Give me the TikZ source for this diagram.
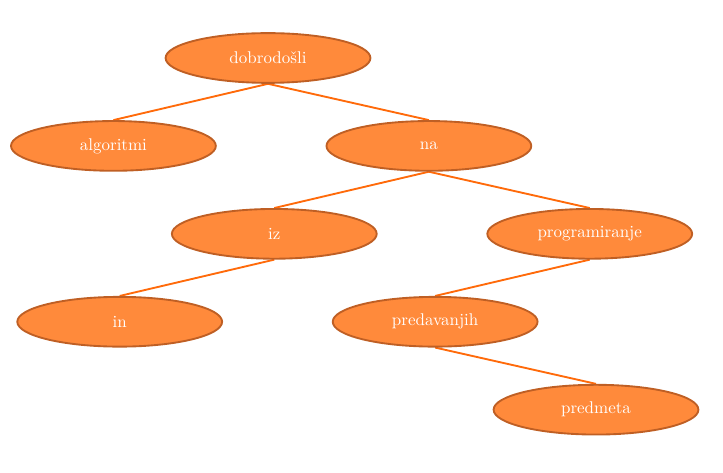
\documentclass[tikz,border=0pt]{standalone}
\usepackage{fontspec}
\usepackage{tikz}
\usetikzlibrary{shapes,positioning,backgrounds}

\definecolor{nodefill}{HTML}{FF8A3B}
\definecolor{nodeborder}{HTML}{BF5F24}
\definecolor{edgecol}{HTML}{FF6A0A}

\begin{document}
\begin{tikzpicture}[on grid,
    word/.style={ellipse, draw=nodeborder, fill=nodefill, line width=1.1pt,
                 minimum width=4.24cm, minimum height=1.03cm, text=white, inner sep=0pt},
    link/.style={draw=edgecol, line width=1.1pt}]
    \useasboundingbox (-5.548,1.2006) rectangle (9.4185,-8.5905);
    \node[word] (A) {dobrodošli};
    \node[word] (B) [below left=1.82cm and 3.2cm of A] {algoritmi};
    \node[word] (C) [below right=1.82cm and 3.33cm of A] {na};
    \node[word] (D) [below left=1.82cm and 3.2cm of C] {iz};
    \node[word] (E) [below right=1.82cm and 3.33cm of C] {programiranje};
    \node[word] (F) [below left=1.82cm and 3.2cm of D] {in};
    \node[word] (G) [below left=1.82cm and 3.2cm of E] {predavanjih};
    \node[word] (H) [below right=1.82cm and 3.33cm of G] {predmeta};
    \begin{pgfonlayer}{background}
    \path[link] (A.south) -- (B.north)
                (A.south) -- (C.north)
                (C.south) -- (D.north)
                (C.south) -- (E.north)
                (D.south) -- (F.north)
                (E.south) -- (G.north)
                (G.south) -- (H.north);
    \end{pgfonlayer}
  \end{tikzpicture}
\end{document}
